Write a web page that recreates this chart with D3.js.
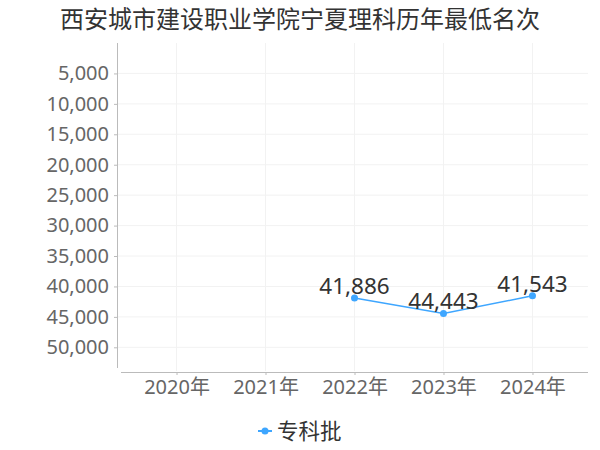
<!DOCTYPE html>
<html>
<head>
<meta charset="utf-8">
<script src="https://cdn.jsdelivr.net/npm/d3@7"></script>
<style>
  body { margin: 0; background: #fff; }
  svg text { font-family: "Noto Sans", "Noto Sans CJK SC", sans-serif; }
</style>
</head>
<body>
<div id="chart"></div>
<script>
const title = '西安城市建设职业学院宁夏理科历年最低名次'
const years = ['2020年', '2021年', '2022年', '2023年', '2024年']
const seriesName = '专科批'
const ranks = [null, null, 41886, 44443, 41543]
const yTicks = [5000, 10000, 15000, 20000, 25000, 30000, 35000, 40000, 45000, 50000]

const width = 600, height = 450
const lineColor = '#3ea6ff'

const svg = d3.select('#chart').append('svg')
  .attr('width', width).attr('height', height)

// 标题
svg.append('text')
  .attr('x', 300).attr('y', 28)
  .attr('text-anchor', 'middle')
  .attr('font-size', 24)
  .attr('fill', '#333')
  .text(title)

const x = d3.scalePoint().domain(years).range([121, 588]).padding(0.624)
// 名次越小越靠上
const y = d3.scaleLinear().domain([0, 53400]).range([43, 368])

// 网格线
svg.append('g').selectAll('line').data(yTicks).join('line')
  .attr('x1', 118).attr('x2', 588)
  .attr('y1', d => y(d)).attr('y2', d => y(d))
  .attr('stroke', '#f2f2f2')
svg.append('g').selectAll('line').data(years).join('line')
  .attr('x1', d => x(d)).attr('x2', d => x(d))
  .attr('y1', 43).attr('y2', 371)
  .attr('stroke', '#f2f2f2')

// y轴
const yAxis = svg.append('g')
  .attr('transform', 'translate(117,0)')
  .call(d3.axisLeft(y).tickValues(yTicks).tickSize(3).tickPadding(5).tickFormat(d3.format(',')))
yAxis.attr('font-family', null)
yAxis.select('.domain').attr('stroke', '#bbb').attr('d', 'M0.5,43V368')
yAxis.selectAll('.tick line').attr('stroke', '#bbb')
yAxis.selectAll('.tick text').attr('font-size', 20).attr('fill', '#666')

// x轴
const xAxis = svg.append('g')
  .attr('transform', 'translate(0,372)')
  .call(d3.axisBottom(x).tickSize(3).tickPadding(5))
xAxis.attr('font-family', null)
xAxis.select('.domain').attr('stroke', '#bbb').attr('d', 'M121,0.5H588')
xAxis.selectAll('.tick line').attr('stroke', '#bbb')
xAxis.selectAll('.tick text').attr('font-size', 20).attr('fill', '#666')

// 折线
const points = years.map((yr, i) => ({ yr, v: ranks[i] })).filter(d => d.v != null)
const line = d3.line().x(d => x(d.yr)).y(d => y(d.v))
svg.append('path')
  .datum(points)
  .attr('d', line)
  .attr('fill', 'none')
  .attr('stroke', lineColor)
  .attr('stroke-width', 1.5)

svg.append('g').selectAll('circle').data(points).join('circle')
  .attr('cx', d => x(d.yr)).attr('cy', d => y(d.v))
  .attr('r', 3.5)
  .attr('fill', lineColor)

svg.append('g').selectAll('text').data(points).join('text')
  .attr('x', d => x(d.yr)).attr('y', d => y(d.v) - 4)
  .attr('text-anchor', 'middle')
  .attr('font-size', 22.5)
  .attr('fill', '#333')
  .text(d => d3.format(',')(d.v))

// 图例
const legend = svg.append('g').attr('transform', 'translate(258,431)')
legend.append('line').attr('x1', 0).attr('x2', 14).attr('y1', 0).attr('y2', 0)
  .attr('stroke', lineColor).attr('stroke-width', 2)
legend.append('circle').attr('cx', 7).attr('cy', 0).attr('r', 3.5).attr('fill', lineColor)
legend.append('text').attr('x', 19).attr('y', 8)
  .attr('font-size', 21.5).attr('fill', '#333')
  .text(seriesName)
</script>
</body>
</html>
